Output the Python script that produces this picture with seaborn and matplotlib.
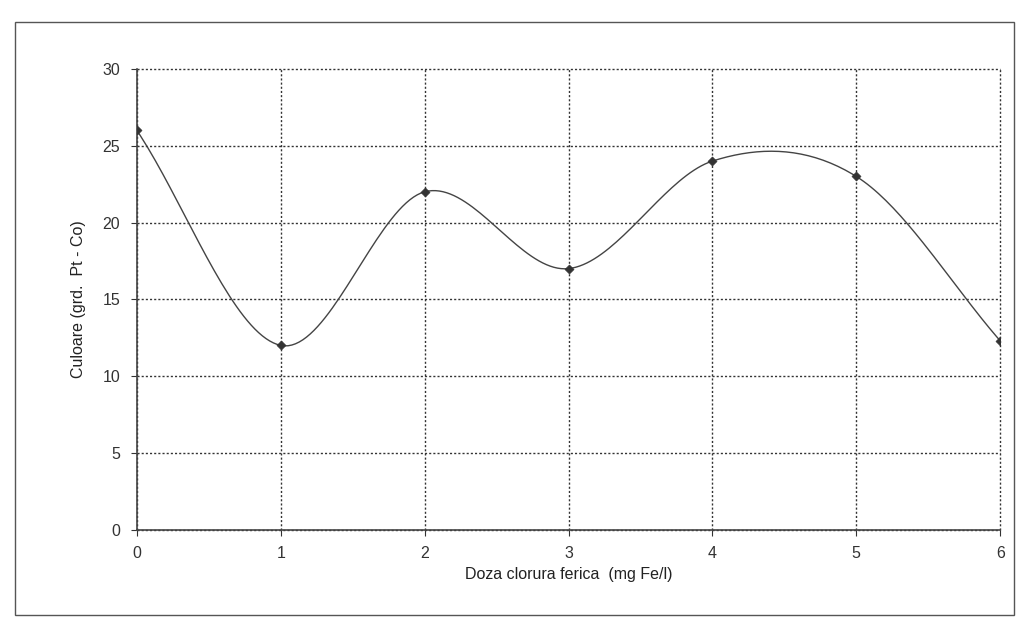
import numpy as np
import pandas as pd
import matplotlib.pyplot as plt
import seaborn as sns

# Datos
doza = [0, 1, 2, 3, 4, 5, 6]
culoare = [26, 12, 22, 17, 24, 23, 12.3]
yticks = [0, 5, 10, 15, 20, 25, 30]


def catmull_rom(x, y, n=40):
    # curba netezita tip Excel (Catmull-Rom)
    x = np.asarray(x, float)
    y = np.asarray(y, float)
    px = np.concatenate([[2 * x[0] - x[1]], x, [2 * x[-1] - x[-2]]])
    py = np.concatenate([[2 * y[0] - y[1]], y, [2 * y[-1] - y[-2]]])
    xs, ys = [], []
    t = np.linspace(0, 1, n)
    for i in range(1, len(px) - 2):
        mx0 = (px[i + 1] - px[i - 1]) / 2
        mx1 = (px[i + 2] - px[i]) / 2
        my0 = (py[i + 1] - py[i - 1]) / 2
        my1 = (py[i + 2] - py[i]) / 2
        h00 = 2 * t**3 - 3 * t**2 + 1
        h10 = t**3 - 2 * t**2 + t
        h01 = -2 * t**3 + 3 * t**2
        h11 = t**3 - t**2
        xs.append(h00 * px[i] + h10 * mx0 + h01 * px[i + 1] + h11 * mx1)
        ys.append(h00 * py[i] + h10 * my0 + h01 * py[i + 1] + h11 * my1)
    return np.concatenate(xs), np.concatenate(ys)


sx, sy = catmull_rom(doza, culoare)
df_curve = pd.DataFrame({"x": sx, "y": sy})
df_pts = pd.DataFrame({"doza": doza, "culoare": culoare})

sns.set_style("white")
plt.rcParams['font.family'] = ['Liberation Sans', 'DejaVu Sans']

fig = plt.figure(figsize=(10.29, 6.21), dpi=100)
ax = fig.add_axes([0.133, 0.147, 0.839, 0.742])

sns.lineplot(data=df_curve, x="x", y="y", sort=False, color="#444444",
             linewidth=1.0, ax=ax)
sns.scatterplot(data=df_pts, x="doza", y="culoare", marker="D", s=22,
                color="#333333", edgecolor="#333333", ax=ax, zorder=5)

ax.set_xlim(0, 6)
ax.set_ylim(0, 30)
ax.set_xticks(doza)
ax.set_yticks(yticks)
ax.grid(True, color="#333333", linestyle=(0, (1.5, 1.5)), linewidth=1.0)
for gl in ax.get_xgridlines() + ax.get_ygridlines():
    gl.set_clip_on(False)
ax.tick_params(axis="both", labelsize=11.5, colors="#333333", length=4,
               direction="out", bottom=True, left=True, pad=8)
for s in ["top", "right"]:
    ax.spines[s].set_visible(False)
for s in ["left", "bottom"]:
    ax.spines[s].set_color("#444444")
    ax.spines[s].set_linewidth(1.2)

ax.set_xlabel("Doza clorura ferica  (mg Fe/l)", fontsize=11.5, color="#222222", labelpad=4)
ax.set_ylabel("Culoare (grd.  Pt - Co)", fontsize=11.5, color="#222222", labelpad=12)

# chenarul exterior al graficului
fig.patches.append(plt.Rectangle((0.015, 0.01), 0.97, 0.955, transform=fig.transFigure,
                                 fill=False, edgecolor="#555555", linewidth=1.0))

fig.savefig("out.png", dpi=100)
